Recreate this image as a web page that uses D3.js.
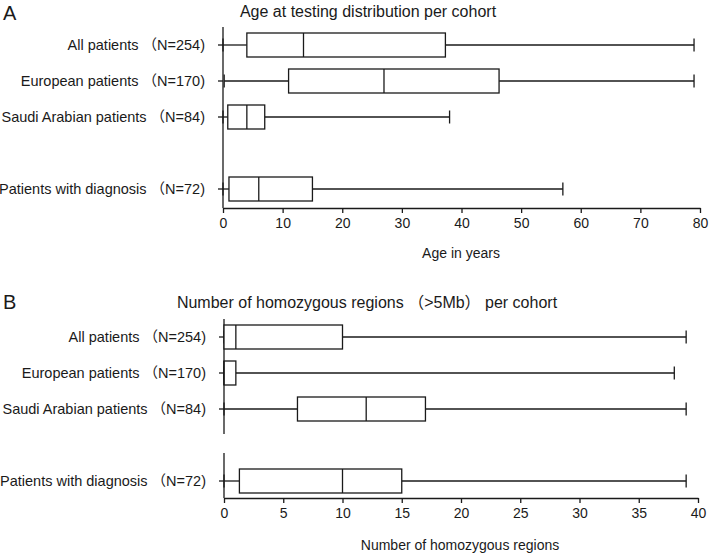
<!DOCTYPE html>
<html>
<head>
<meta charset="utf-8">
<script src="https://cdn.jsdelivr.net/npm/d3@7"></script>
<style>
  body { margin: 0; background: #fff; }
  svg text { font-family: "Liberation Sans", Arial, "Noto Sans CJK SC", sans-serif; fill: #1a1a1a; white-space: pre; }
  .domain, .tick line { stroke: #1a1a1a; stroke-width: 1.3; }
</style>
</head>
<body>
<div id="chart"></div>
<script>
// cohorts (the empty one is the blank slot above the diagnosis row)
var cohorts = ["All patients \uFF08N=254)", "European patients \uFF08N=170)", "Saudi Arabian patients \uFF08N=84)", "", "Patients with diagnosis \uFF08N=72)"];

// panel A: age at testing
var ageMin    = [0, 0.2, 0, null, 0];
var ageQ1     = [4, 11, 0.8, null, 1];
var ageMedian = [13.5, 27, 4, null, 6];
var ageQ3     = [37.3, 46.3, 7, null, 15];
var ageMax    = [79, 79, 38, null, 57];
var ageTicks  = [0, 10, 20, 30, 40, 50, 60, 70, 80];

// panel B: homozygous regions
var rohMin    = [0, 0, 0, null, 0];
var rohQ1     = [0, 0, 6.2, null, 1.3];
var rohMedian = [1, 0, 12, null, 10];
var rohQ3     = [10, 1, 17, null, 15];
var rohMax    = [39, 38, 39, null, 39];
var rohTicks  = [0, 5, 10, 15, 20, 25, 30, 35, 40];

var W = 709, H = 554;
var svg = d3.select("#chart").append("svg").attr("width", W).attr("height", H);

function panel(opt) {
  var g = svg.append("g");
  var x = d3.scaleLinear().domain([0, d3.max(opt.ticks)]).range([opt.x0, opt.x1]);
  var y = d3.scaleBand().domain(cohorts.map(function(d, i){ return i; })).range([opt.yTop, opt.yTop + 180]).padding(0);
  var bh = 24, cap = 13;

  var rows = cohorts.map(function(c, i){
    return {i: i, label: c, min: opt.min[i], q1: opt.q1[i], med: opt.med[i], q3: opt.q3[i], max: opt.max[i]};
  }).filter(function(d){ return d.label !== ""; });

  // x axis
  var xa = g.append("g")
      .attr("transform", "translate(0," + opt.xAxisY + ")")
      .call(d3.axisBottom(x).tickValues(opt.ticks).tickSize(5).tickSizeOuter(0).tickPadding(5));
  xa.selectAll("text").style("font-size", "14px");

  // y axis (ticks only, line drawn by hand so it can be broken)
  var ya = g.append("g")
      .attr("transform", "translate(" + opt.x0 + ",0)")
      .call(d3.axisLeft(y).tickValues(rows.map(function(d){ return d.i; }))
        .tickFormat(function(i){ return cohorts[i]; })
        .tickSize(5).tickSizeOuter(0).tickPadding(13)
        .offset(0));
  ya.select(".domain").remove();
  ya.selectAll(".tick").attr("transform", function(i){ return "translate(0," + (y(i) + y.bandwidth() / 2) + ")"; });
  ya.selectAll("text").style("font-size", "14.5px").attr("dy", "0.36em");

  var yTop = opt.yTop, yBot = opt.xAxisY;
  var segs = opt.gap ? [[yTop, opt.gap[0]], [opt.gap[1], yBot]] : [[yTop, yBot]];
  g.selectAll(".yline").data(segs).enter().append("line")
      .attr("x1", opt.x0).attr("x2", opt.x0)
      .attr("y1", function(d){ return d[0]; }).attr("y2", function(d){ return d[1]; })
      .attr("stroke", "#1a1a1a").attr("stroke-width", 1.3);

  // boxes
  var b = g.selectAll(".box").data(rows).enter().append("g");
  function cy(d){ return y(d.i) + y.bandwidth() / 2; }
  function line(sel, x1, y1, x2, y2) {
    sel.append("line").attr("x1", x1).attr("y1", y1).attr("x2", x2).attr("y2", y2)
      .attr("stroke", "#1a1a1a").attr("stroke-width", 1.3);
  }
  line(b, function(d){ return x(d.min); }, cy, function(d){ return x(d.q1); }, cy);
  line(b, function(d){ return x(d.q3); }, cy, function(d){ return x(d.max); }, cy);
  line(b, function(d){ return x(d.min); }, function(d){ return cy(d) - cap / 2; }, function(d){ return x(d.min); }, function(d){ return cy(d) + cap / 2; });
  line(b, function(d){ return x(d.max); }, function(d){ return cy(d) - cap / 2; }, function(d){ return x(d.max); }, function(d){ return cy(d) + cap / 2; });
  b.append("rect")
      .attr("x", function(d){ return x(d.q1); })
      .attr("y", function(d){ return cy(d) - bh / 2; })
      .attr("width", function(d){ return x(d.q3) - x(d.q1); })
      .attr("height", bh)
      .attr("fill", "#fff").attr("stroke", "#1a1a1a").attr("stroke-width", 1.3);
  line(b, function(d){ return x(d.med); }, function(d){ return cy(d) - bh / 2; }, function(d){ return x(d.med); }, function(d){ return cy(d) + bh / 2; });

  // texts
  g.append("text").attr("x", 3).attr("y", opt.letterY).style("font-size", "20px").text(opt.letter);
  g.append("text").attr("x", opt.titleX).attr("y", opt.titleY).attr("text-anchor", "middle")
      .style("font-size", "16px").text(opt.title);
  g.append("text").attr("x", opt.xLabelX).attr("y", opt.xLabelY).attr("text-anchor", "middle")
      .style("font-size", "14px").text(opt.xLabel);
}

panel({
  letter: "A", letterY: 20, title: "Age at testing distribution per cohort", titleX: 368, titleY: 17,
  xLabel: "Age in years", xLabelX: 461, xLabelY: 258,
  x0: 223, x1: 700, yTop: 27, xAxisY: 208, ticks: ageTicks,
  min: ageMin, q1: ageQ1, med: ageMedian, q3: ageQ3, max: ageMax
});

panel({
  letter: "B", letterY: 309, title: "Number of homozygous regions \uFF08>5Mb\uFF09 per cohort", titleX: 367, titleY: 308,
  xLabel: "Number of homozygous regions", xLabelX: 460, xLabelY: 550,
  x0: 224, x1: 698, yTop: 319, xAxisY: 498, ticks: rohTicks, gap: [434, 453],
  min: rohMin, q1: rohQ1, med: rohMedian, q3: rohQ3, max: rohMax
});
</script>
</body>
</html>
